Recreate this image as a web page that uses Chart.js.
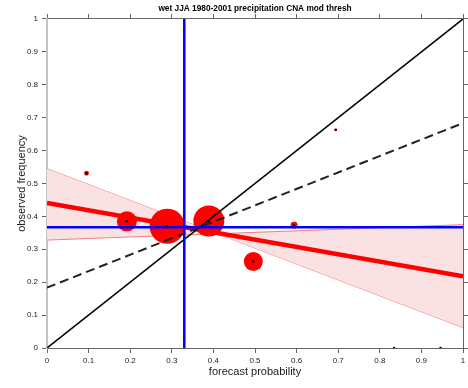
<!DOCTYPE html>
<html>
<head>
<meta charset="utf-8">
<script src="https://cdn.jsdelivr.net/npm/chart.js@4"></script>
<style>
  body { margin: 0; background: #fff; }
  canvas { display: block; }
</style>
</head>
<body>
<canvas id="rel" width="468" height="388"></canvas>
<script>
// reliability bins: forecast probability, observed frequency, number of forecasts
const fcstProb = [0.095, 0.192, 0.289, 0.389, 0.496, 0.594, 0.694, 0.834, 0.946];
const obsFreq = [0.531, 0.385, 0.37, 0.386, 0.263, 0.373, 0.663, 0, 0];
const counts = [6, 100, 310, 240, 90, 12, 2, 1, 1];

// climatology
const climFcst = 0.33;
const climObs = 0.367;

// weighted regression fit and its confidence limits, at x = 0 and x = 1
const lineX = [0, 1];
const fitY = [0.441, 0.218];
const limA = [0.545, 0.062];
const limB = [0.328, 0.375];

const tickVals = [0, 0.1, 0.2, 0.3, 0.4, 0.5, 0.6, 0.7, 0.8, 0.9, 1];

const pts = (xs, ys) => xs.map((x, i) => ({ x: x, y: ys[i] }));
const noSkill = lineX.map(x => (x + climObs) / 2);

const font = "'Liberation Sans', Arial, sans-serif";
const lineDs = (data, color, width, order, extra) => Object.assign({
  type: 'scatter', data: data, showLine: true, pointRadius: 0,
  borderColor: color, borderWidth: width, order: order, fill: false
}, extra || {});

const axisGrid = { drawOnChartArea: false, drawTicks: true, tickLength: 5, color: '#666', lineWidth: 1 };

// fixed tick set, plain labels, and no extra room for edge labels
const setTicks = s => { s.ticks = tickVals.map(v => ({ value: v })); };
const fixSize = (w, h) => s => {
  if (w !== null) s.width = w;
  if (h !== null) s.height = h;
  s.paddingLeft = s.paddingRight = s.paddingTop = s.paddingBottom = 0;
};
const tickLabel = v => String(+v.toFixed(1));

new Chart(document.getElementById('rel'), {
  type: 'scatter',
  data: {
    datasets: [
      lineDs(pts(lineX, limA), '#f08080', 1, 20),
      lineDs(pts(lineX, limB), '#f08080', 1, 19, { fill: '-1', backgroundColor: '#fae2e2' }),
      {
        type: 'bubble',
        data: fcstProb.map((x, i) => ({ x: x, y: obsFreq[i], r: Math.sqrt(counts[i]) })),
        backgroundColor: '#ff0000', borderWidth: 0, order: 15
      },
      lineDs(pts(lineX, fitY), '#ff0000', 4.5, 14),
      lineDs(pts(lineX, lineX), '#000', 1.5, 12),
      lineDs(pts(lineX, noSkill), '#222', 2, 11, { borderDash: [9, 5] }),
      lineDs(pts(lineX, [climObs, climObs]), '#0000ff', 2.5, 10),
      lineDs(pts([climFcst, climFcst], [0, 1]), '#0000ff', 2.5, 10),
      {
        type: 'scatter', data: pts(fcstProb, obsFreq),
        pointRadius: 1.2, pointBackgroundColor: '#000', pointBorderWidth: 0, order: 1
      }
    ]
  },
  options: {
    responsive: false,
    animation: false,
    layout: { padding: 0, autoPadding: false },
    plugins: {
      legend: { display: false },
      tooltip: { enabled: false },
      title: {
        display: true,
        fullSize: false,
        text: 'wet JJA 1980-2001 precipitation CNA mod thresh',
        color: '#000',
        font: { family: font, size: 8.3, weight: 'bold' },
        padding: { top: 4, bottom: 0 }
      }
    },
    scales: {
      x: {
        type: 'linear', position: 'bottom', min: 0, max: 1,
        afterBuildTicks: setTicks,
        afterFit: fixSize(null, 40),
        ticks: { color: '#222', font: { family: font, size: 8 }, padding: 3, maxRotation: 0, callback: tickLabel },
        grid: axisGrid,
        border: { color: '#666', width: 1 },
        title: { display: true, text: 'forecast probability', color: '#222',
                 font: { family: font, size: 11 }, padding: { top: 0, bottom: 9 } }
      },
      x2: {
        type: 'linear', position: 'top', min: 0, max: 1,
        afterBuildTicks: setTicks,
        afterFit: fixSize(null, 5),
        ticks: { display: false },
        grid: axisGrid,
        border: { color: '#666', width: 1 }
      },
      y: {
        type: 'linear', position: 'left', min: 0, max: 1,
        afterBuildTicks: setTicks,
        afterFit: fixSize(47, null),
        ticks: { color: '#222', font: { family: font, size: 8 }, padding: 4, callback: tickLabel },
        grid: axisGrid,
        border: { color: '#c4c4c4', width: 2 },
        title: { display: true, text: 'observed frequency', color: '#222',
                 font: { family: font, size: 11 }, padding: { top: 15, bottom: 0 } }
      },
      y2: {
        type: 'linear', position: 'right', min: 0, max: 1,
        afterBuildTicks: setTicks,
        afterFit: fixSize(5, null),
        ticks: { display: false },
        grid: axisGrid,
        border: { color: '#666', width: 1 }
      }
    }
  }
});
</script>
</body>
</html>
